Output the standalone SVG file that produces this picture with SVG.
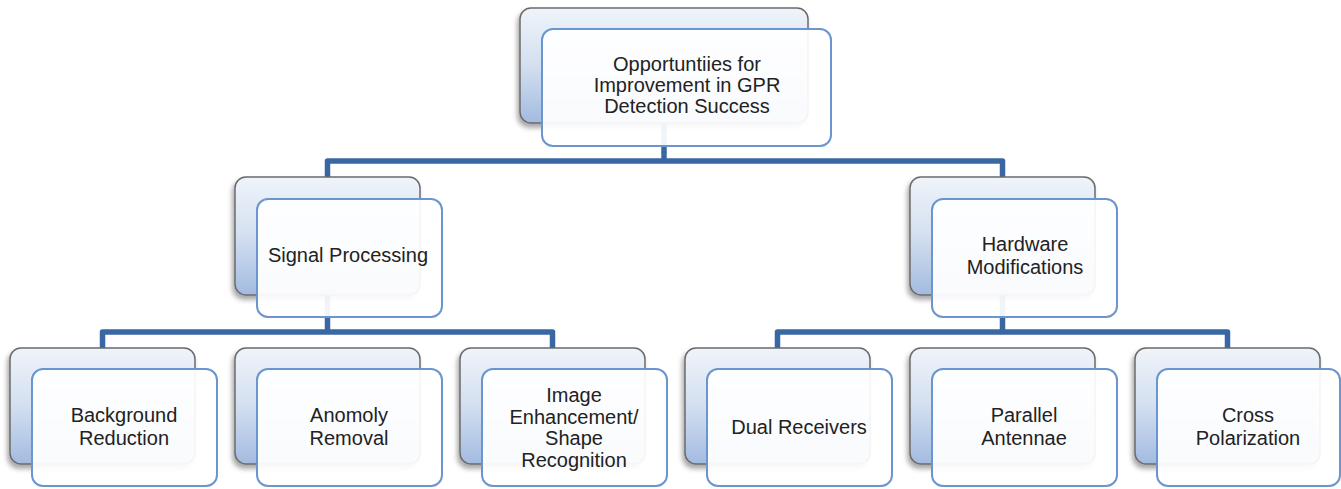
<svg xmlns="http://www.w3.org/2000/svg" width="1341" height="489" viewBox="0 0 1341 489">
<defs>
<linearGradient id="backGrad" x1="0" y1="0" x2="0" y2="1">
<stop offset="0" stop-color="#f0f4fa"/>
<stop offset="0.5" stop-color="#d3dff0"/>
<stop offset="1" stop-color="#a3bbe0"/>
</linearGradient>
<filter id="shadow" x="-10%" y="-10%" width="125%" height="130%">
<feDropShadow dx="-2" dy="4" stdDeviation="2.5" flood-color="#000" flood-opacity="0.35"/>
</filter>
</defs>
<style>
.back{fill:url(#backGrad);stroke:#6b6b6b;stroke-width:1.5;filter:url(#shadow)}
.front{fill:#ffffff;fill-opacity:0.93;stroke:#6b95cf;stroke-width:2}
.conn{fill:none;stroke:#3867a3;stroke-width:5.5;stroke-linejoin:round}
text{font-family:"Liberation Sans",Arial,sans-serif;font-size:20px;fill:#222;text-anchor:middle}
</style>
<rect width="1341" height="489" fill="#ffffff"/>
<g id="connectors">
<path class="conn" d="M664 123 V161"/>
<path class="conn" d="M327.5 177 V161 H1002.5 V177"/>
<path class="conn" d="M327.5 295 V332"/>
<path class="conn" d="M102.5 348 V332 H552.5 V348"/>
<path class="conn" d="M1002.5 295 V332"/>
<path class="conn" d="M777.5 348 V332 H1227.5 V348"/>
</g>
<g id="n-root">
<rect class="back" x="520" y="8" width="288" height="115" rx="11"/>
<rect class="front" x="542" y="29" width="289" height="117" rx="11"/>
<text x="687" y="71">Opportuntiies for</text>
<text x="687" y="92">Improvement in GPR</text>
<text x="687" y="113">Detection Success</text>
</g>
<g id="n-signal">
<rect class="back" x="235" y="177" width="185" height="118" rx="11"/>
<rect class="front" x="257" y="199" width="185" height="118" rx="11"/>
<text x="348" y="262">Signal Processing</text>
</g>
<g id="n-hardware">
<rect class="back" x="910" y="177" width="185" height="118" rx="11"/>
<rect class="front" x="932" y="199" width="185" height="118" rx="11"/>
<text x="1025" y="251">Hardware</text>
<text x="1025" y="274">Modifications</text>
</g>
<g id="n-background">
<rect class="back" x="10" y="348" width="185" height="116" rx="11"/>
<rect class="front" x="32" y="369" width="185" height="117" rx="11"/>
<text x="124" y="422">Background</text>
<text x="124" y="445">Reduction</text>
</g>
<g id="n-anomoly">
<rect class="back" x="235" y="348" width="185" height="116" rx="11"/>
<rect class="front" x="257" y="369" width="185" height="117" rx="11"/>
<text x="349" y="422">Anomoly</text>
<text x="349" y="445">Removal</text>
</g>
<g id="n-image">
<rect class="back" x="460" y="348" width="185" height="116" rx="11"/>
<rect class="front" x="482" y="369" width="185" height="117" rx="11"/>
<text x="574" y="402">Image</text>
<text x="574" y="424">Enhancement/</text>
<text x="574" y="445">Shape</text>
<text x="574" y="467">Recognition</text>
</g>
<g id="n-dual">
<rect class="back" x="685" y="348" width="185" height="116" rx="11"/>
<rect class="front" x="707" y="369" width="185" height="117" rx="11"/>
<text x="799" y="434">Dual Receivers</text>
</g>
<g id="n-parallel">
<rect class="back" x="910" y="348" width="185" height="116" rx="11"/>
<rect class="front" x="932" y="369" width="185" height="117" rx="11"/>
<text x="1024" y="422">Parallel</text>
<text x="1024" y="445">Antennae</text>
</g>
<g id="n-cross">
<rect class="back" x="1135" y="348" width="185" height="116" rx="11"/>
<rect class="front" x="1157" y="369" width="183" height="117" rx="11"/>
<text x="1248" y="422">Cross</text>
<text x="1248" y="445">Polarization</text>
</g>
</svg>
